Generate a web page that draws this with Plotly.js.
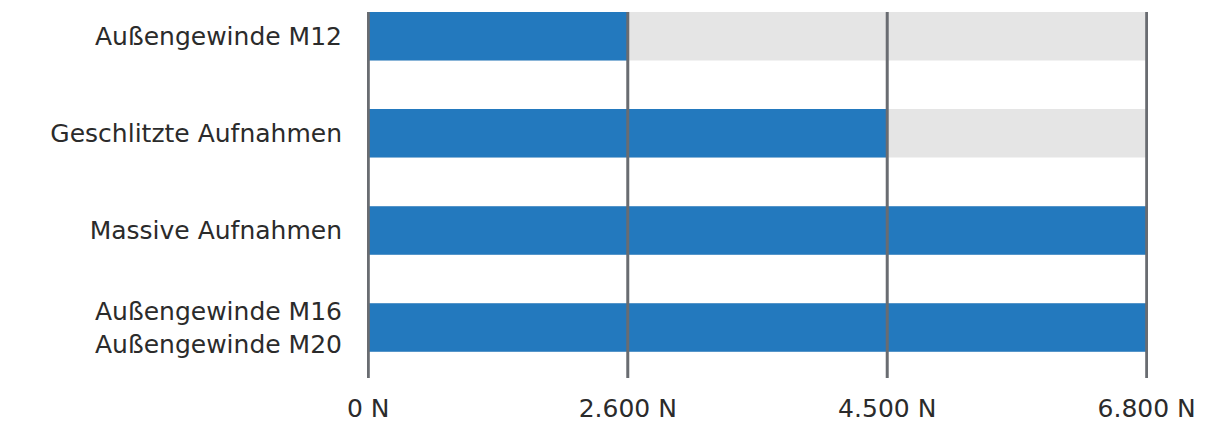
<!DOCTYPE html>
<html>
<head>
<meta charset="utf-8">
<script src="https://cdn.plot.ly/plotly-3.0.1.min.js"></script>
<style>html,body{margin:0;padding:0;background:#fff;}#chart{width:1216px;height:430px;}</style>
</head>
<body>
<div id="chart"></div>
<script>
// Data
const categories = ["Außengewinde M12", "Geschlitzte Aufnahmen", "Massive Aufnahmen", "Außengewinde M16<br>Außengewinde M20"];
const tickLabels = ["0 N", "2.600 N", "4.500 N", "6.800 N"];
const tickSteps = [0, 1, 2, 3];            // equally spaced scale steps
const maxSteps = [3, 3, 3, 3];             // gray background track
const valueSteps = [1, 2, 3, 3];           // blue bar reaches this step

const yPos = categories.map((c, i) => i);

const textColor = "#2b2b2b";
const gridColor = "#696c71";

const traces = [
  {
    type: "bar", orientation: "h",
    y: yPos, x: maxSteps, base: 0, width: 0.5,
    marker: {color: "#e5e5e5", line: {width: 0}},
    hoverinfo: "skip", showlegend: false
  },
  {
    type: "bar", orientation: "h",
    y: yPos, x: valueSteps, base: 0, width: 0.5,
    marker: {color: "#2379be", line: {width: 0}},
    showlegend: false
  }
];

const shapes = tickSteps.map(v => ({
  type: "line", xref: "x", yref: "paper",
  x0: v, x1: v, y0: 0, y1: 1,
  line: {color: gridColor, width: 3},
  layer: "above"
}));

const layout = {
  width: 1216, height: 430,
  margin: {l: 367, r: 68, t: 12, b: 52},
  paper_bgcolor: "#fff", plot_bgcolor: "#fff",
  barmode: "overlay",
  font: {family: "DejaVu Sans, sans-serif", size: 25, color: textColor},
  xaxis: {
    range: [-0.005, 3.005],
    tickvals: tickSteps, ticktext: tickLabels,
    showgrid: false, zeroline: false, showline: false,
    ticks: "", ticklabelstandoff: 13,
    tickfont: {size: 25, color: textColor}
  },
  yaxis: {
    range: [3.52, -0.25],
    tickvals: yPos, ticktext: categories,
    showgrid: false, zeroline: false, showline: false,
    ticks: "", ticklabelstandoff: 24,
    tickfont: {size: 25, color: textColor}
  },
  shapes: shapes
};

Plotly.newPlot("chart", traces, layout, {displayModeBar: false, staticPlot: true});
</script>
</body>
</html>
